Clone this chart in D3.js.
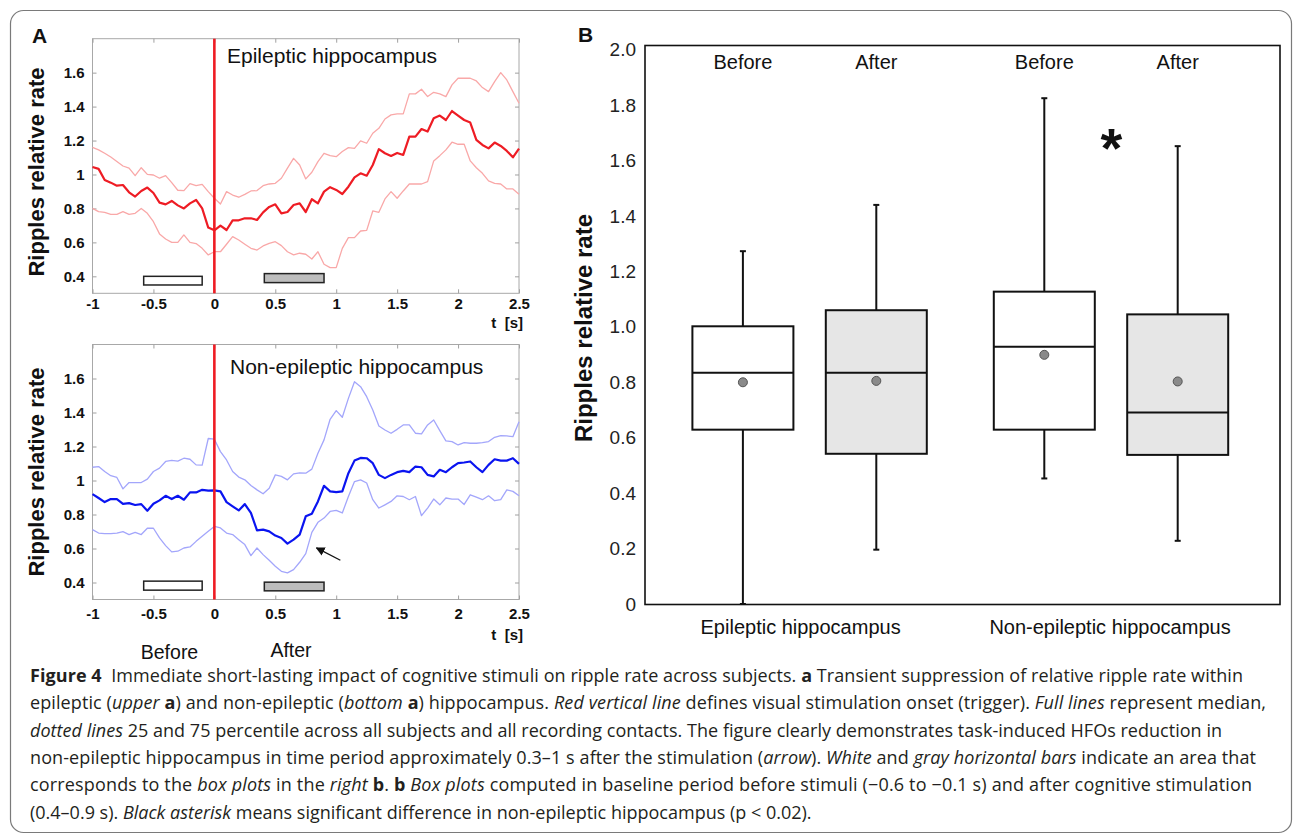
<!DOCTYPE html>
<html>
<head>
<meta charset="utf-8">
<script src="https://cdn.jsdelivr.net/npm/d3@7"></script>
<style>
body { margin: 0; background: #fff; }
svg { display: block; font-family: "Liberation Sans", Arial, sans-serif; }
</style>
</head>
<body>
<svg id="fig" width="1295" height="837"></svg>
<script>
// time grid of the traces (s), one sample every 0.05 s
const times = d3.range(71).map(i => Math.round((-1 + i * 0.05) * 100) / 100);

// epileptic hippocampus: median, 75th and 25th percentile
const epiMedian = [
   1.044, 1.033, 0.968, 0.952, 0.934, 0.938, 0.895, 0.870, 0.903, 0.923,
   0.891, 0.834, 0.824, 0.844, 0.818, 0.800, 0.830, 0.850, 0.800, 0.687,
   0.671, 0.699, 0.673, 0.730, 0.730, 0.742, 0.742, 0.732, 0.777, 0.809,
   0.824, 0.771, 0.779, 0.820, 0.830, 0.779, 0.854, 0.830, 0.899, 0.925,
   0.909, 0.885, 0.928, 0.983, 1.007, 0.993, 1.056, 1.149, 1.125, 1.109,
   1.127, 1.115, 1.223, 1.223, 1.268, 1.253, 1.331, 1.347, 1.321, 1.374,
   1.347, 1.321, 1.306, 1.204, 1.174, 1.154, 1.188, 1.168, 1.139, 1.101,
   1.152
];
const epiP75 = [
   1.160, 1.145, 1.125, 1.103, 1.076, 1.050, 1.037, 0.993, 1.040, 1.001,
   0.997, 0.978, 0.993, 0.952, 0.907, 0.905, 0.946, 0.934, 0.942, 0.899,
   0.860, 0.826, 0.899, 0.879, 0.866, 0.883, 0.903, 0.905, 0.934, 0.944,
   0.948, 0.978, 1.037, 1.095, 1.056, 0.974, 1.013, 1.076, 1.125, 1.111,
   1.105, 1.135, 1.158, 1.154, 1.198, 1.184, 1.243, 1.272, 1.327, 1.351,
   1.357, 1.357, 1.475, 1.475, 1.502, 1.459, 1.484, 1.475, 1.459, 1.528,
   1.567, 1.567, 1.567, 1.551, 1.512, 1.488, 1.547, 1.600, 1.557, 1.488,
   1.420
];
const epiP25 = [
   0.800, 0.781, 0.777, 0.765, 0.765, 0.781, 0.765, 0.771, 0.800, 0.771,
   0.722, 0.650, 0.620, 0.600, 0.600, 0.644, 0.600, 0.593, 0.565, 0.526,
   0.545, 0.545, 0.589, 0.634, 0.614, 0.589, 0.565, 0.555, 0.579, 0.594,
   0.604, 0.581, 0.545, 0.526, 0.536, 0.530, 0.502, 0.545, 0.471, 0.451,
   0.451, 0.565, 0.628, 0.628, 0.667, 0.671, 0.785, 0.777, 0.856, 0.899,
   0.860, 0.903, 0.944, 0.944, 0.944, 0.958, 1.080, 1.111, 1.145, 1.190,
   1.178, 1.178, 1.080, 1.040, 1.007, 0.962, 0.948, 0.944, 0.915, 0.915,
   0.883
];

// non-epileptic hippocampus: median, 75th and 25th percentile
const nonMedian = [
   0.920, 0.897, 0.873, 0.891, 0.891, 0.863, 0.867, 0.856, 0.861, 0.822,
   0.863, 0.883, 0.910, 0.891, 0.910, 0.887, 0.930, 0.930, 0.945, 0.940,
   0.942, 0.936, 0.873, 0.848, 0.824, 0.861, 0.809, 0.707, 0.711, 0.701,
   0.676, 0.662, 0.629, 0.652, 0.682, 0.789, 0.805, 0.877, 0.969, 0.936,
   0.932, 0.936, 1.043, 1.117, 1.133, 1.131, 1.102, 1.033, 1.014, 1.033,
   1.049, 1.057, 1.049, 1.082, 1.078, 1.033, 1.024, 1.063, 1.049, 1.078,
   1.102, 1.106, 1.112, 1.078, 1.049, 1.092, 1.125, 1.117, 1.117, 1.131,
   1.098
];
const nonP75 = [
   1.078, 1.082, 1.053, 1.028, 1.018, 0.951, 0.988, 0.988, 0.988, 1.008,
   1.053, 1.073, 1.112, 1.118, 1.114, 1.131, 1.125, 1.092, 1.090, 1.247,
   1.243, 1.170, 1.121, 1.053, 1.020, 1.004, 0.971, 0.945, 0.922, 0.955,
   1.033, 1.024, 1.004, 1.039, 1.045, 1.043, 1.067, 1.160, 1.239, 1.360,
   1.411, 1.372, 1.483, 1.581, 1.552, 1.493, 1.415, 1.321, 1.297, 1.278,
   1.301, 1.327, 1.327, 1.278, 1.274, 1.327, 1.356, 1.293, 1.233, 1.229,
   1.209, 1.223, 1.219, 1.219, 1.223, 1.229, 1.254, 1.264, 1.262, 1.258,
   1.346
];
const nonP25 = [
   0.711, 0.691, 0.687, 0.687, 0.691, 0.699, 0.682, 0.695, 0.682, 0.719,
   0.719, 0.662, 0.617, 0.580, 0.584, 0.603, 0.609, 0.642, 0.672, 0.701,
   0.730, 0.721, 0.691, 0.682, 0.652, 0.623, 0.558, 0.603, 0.564, 0.531,
   0.496, 0.466, 0.457, 0.476, 0.519, 0.570, 0.695, 0.754, 0.779, 0.818,
   0.824, 0.809, 0.906, 0.994, 1.004, 0.985, 0.887, 0.838, 0.857, 0.877,
   0.910, 0.906, 0.887, 0.906, 0.793, 0.838, 0.891, 0.857, 0.897, 0.891,
   0.891, 0.859, 0.916, 0.902, 0.887, 0.910, 0.881, 0.887, 0.945, 0.936,
   0.910
];

// axes of panel A
const tTicks = [-1, -0.5, 0, 0.5, 1, 1.5, 2, 2.5];
const rateTicksA = [0.4, 0.6, 0.8, 1, 1.2, 1.4, 1.6];

// white (before) and gray (after) bars: time span and rate span per panel
const beforeSpan = [-0.58, -0.1];
const afterSpan = [0.41, 0.9];
const epiBarRates = { before: [0.349, 0.4], after: [0.363, 0.416] };
const nonBarRates = { before: [0.355, 0.408], after: [0.351, 0.402] };

// arrow in the lower panel: [t, rate] tail -> head
const arrowTail = [1.034, 0.531];
const arrowHead = [0.838, 0.604];

// panel B box plots
const boxGroups = ["Epileptic hippocampus", "Non-epileptic hippocampus"];
const boxPhases = ["Before", "After"];
const boxMin = [0.0, 0.196, 0.453, 0.228];
const boxQ1 = [0.629, 0.542, 0.629, 0.538];
const boxMedian = [0.834, 0.834, 0.928, 0.691];
const boxQ3 = [1.002, 1.06, 1.127, 1.045];
const boxMax = [1.273, 1.44, 1.825, 1.652];
const boxMean = [0.80, 0.805, 0.899, 0.803];
const rateTicksB = [0, 0.2, 0.4, 0.6, 0.8, 1.0, 1.2, 1.4, 1.6, 1.8, 2.0];

// caption lines: [text, style]  (b = bold, i = italic)
const captionLines = [
   [["Figure 4", "b"], ["  Immediate short-lasting impact of cognitive stimuli on ripple rate across subjects. ", ""], ["a", "b"], [" Transient suppression of relative ripple rate within", ""]],
   [["epileptic (", ""], ["upper", "i"], [" ", ""], ["a", "b"], [") and non-epileptic (", ""], ["bottom", "i"], [" ", ""], ["a", "b"], [") hippocampus. ", ""], ["Red vertical line", "i"], [" defines visual stimulation onset (trigger). ", ""], ["Full lines", "i"], [" represent median,", ""]],
   [["dotted lines", "i"], [" 25 and 75 percentile across all subjects and all recording contacts. The figure clearly demonstrates task-induced HFOs reduction in", ""]],
   [["non-epileptic hippocampus in time period approximately 0.3\u20131 s after the stimulation (", ""], ["arrow", "i"], ["). ", ""], ["White", "i"], [" and ", ""], ["gray horizontal bars", "i"], [" indicate an area that", ""]],
   [["corresponds to the ", ""], ["box plots", "i"], [" in the ", ""], ["right", "i"], [" ", ""], ["b", "b"], [". ", ""], ["b", "b"], [" ", ""], ["Box plots", "i"], [" computed in baseline period before stimuli (\u22120.6 to \u22120.1 s) and after cognitive stimulation", ""]],
   [["(0.4\u20130.9 s). ", ""], ["Black asterisk", "i"], [" means significant difference in non-epileptic hippocampus (p < 0.02).", ""]]
];
const captionEnds = [1243, 1266, 1222, 1256, 1252, null];

const svg = d3.select("#fig");

svg.append("rect").attr("width", 1295).attr("height", 837).attr("fill", "#fff");

// 外枠
svg.append("rect")
   .attr("x", 10.5).attr("y", 10.5)
   .attr("width", 1281).attr("height", 822)
   .attr("rx", 13)
   .attr("fill", "none")
   .attr("stroke", "#7a7a7a")
   .attr("stroke-width", 1.2);

svg.append("defs").append("marker")
   .attr("id", "arrowhead")
   .attr("viewBox", "0 0 10 10")
   .attr("refX", 9).attr("refY", 5)
   .attr("markerWidth", 9).attr("markerHeight", 9)
   .attr("markerUnits", "userSpaceOnUse")
   .attr("orient", "auto")
   .append("path")
   .attr("d", "M0,0L10,5L0,10z")
   .attr("fill", "#111");

// panel A
const x = d3.scaleLinear().domain([-1, 2.5]).range([92.5, 519]);

function drawTracePanel(opt) {
   const y = d3.scaleLinear().domain([0.3, 1.8]).range([opt.bottom, opt.top]);
   const g = svg.append("g");

   // frame
   g.append("rect")
      .attr("x", x.range()[0]).attr("y", opt.top)
      .attr("width", x.range()[1] - x.range()[0])
      .attr("height", opt.bottom - opt.top)
      .attr("fill", "none")
      .attr("stroke", "#a8a8a8")
      .attr("stroke-width", 1);

   const styleAxis = (sel) => {
      sel.select(".domain").remove();
      sel.selectAll(".tick line").attr("stroke", "#a0a0a0");
      sel.selectAll(".tick text")
         .attr("fill", "#111")
         .attr("font-size", 15)
         .attr("font-weight", "bold")
         .attr("font-family", "Liberation Sans, Arial, sans-serif");
   };

   g.append("g")
      .attr("transform", `translate(${x.range()[0]},0)`)
      .call(d3.axisLeft(y).tickValues(rateTicksA).tickSize(-4).tickPadding(8).tickFormat(d => String(d)))
      .call(styleAxis);
   g.append("g")
      .attr("transform", `translate(${x.range()[1]},0)`)
      .call(d3.axisRight(y).tickValues(rateTicksA).tickSize(-4).tickFormat(""))
      .call(styleAxis);
   g.append("g")
      .attr("transform", `translate(0,${opt.bottom})`)
      .call(d3.axisBottom(x).tickValues(tTicks).tickSize(-4).tickPadding(opt.xPad).tickFormat(d => String(d)))
      .call(styleAxis);
   g.append("g")
      .attr("transform", `translate(0,${opt.top})`)
      .call(d3.axisTop(x).tickValues(tTicks).tickSize(-4).tickFormat(""))
      .call(styleAxis);

   // percentile traces, then median
   const line = d3.line().x((d, i) => x(times[i])).y(d => y(d));
   [opt.p75, opt.p25].forEach(s => {
      g.append("path")
         .attr("d", line(s))
         .attr("fill", "none")
         .attr("stroke", opt.light)
         .attr("stroke-width", 1.3)
         .attr("stroke-linejoin", "round");
   });
   g.append("path")
      .attr("d", line(opt.median))
      .attr("fill", "none")
      .attr("stroke", opt.dark)
      .attr("stroke-width", 2.2)
      .attr("stroke-linejoin", "round");

   // before / after bars
   g.append("rect")
      .attr("x", x(beforeSpan[0])).attr("y", y(opt.bars.before[1]))
      .attr("width", x(beforeSpan[1]) - x(beforeSpan[0]))
      .attr("height", y(opt.bars.before[0]) - y(opt.bars.before[1]))
      .attr("fill", "#fff").attr("stroke", "#222").attr("stroke-width", 1.5);
   g.append("rect")
      .attr("x", x(afterSpan[0])).attr("y", y(opt.bars.after[1]))
      .attr("width", x(afterSpan[1]) - x(afterSpan[0]))
      .attr("height", y(opt.bars.after[0]) - y(opt.bars.after[1]))
      .attr("fill", "#bdbdbd").attr("stroke", "#222").attr("stroke-width", 1.5);

   // stimulation onset
   g.append("line")
      .attr("x1", x(0)).attr("x2", x(0))
      .attr("y1", opt.top).attr("y2", opt.bottom)
      .attr("stroke", "#ee1c24")
      .attr("stroke-width", 2.6);

   g.append("text")
      .attr("x", opt.titleX).attr("y", opt.titleY)
      .attr("font-size", 21)
      .attr("fill", "#111")
      .text(opt.title);

   g.append("text")
      .attr("transform", `translate(36,${opt.labelY}) rotate(-90)`)
      .attr("text-anchor", "middle")
      .attr("dominant-baseline", "central")
      .attr("font-size", 22)
      .attr("font-weight", "bold")
      .attr("fill", "#111")
      .text("Ripples relative rate");

   g.append("text")
      .attr("x", 523).attr("y", opt.unitY)
      .attr("text-anchor", "end")
      .attr("font-size", 15)
      .attr("font-weight", "bold")
      .attr("fill", "#111")
      .attr("xml:space", "preserve")
      .text("t  [s]");

   return y;
}

drawTracePanel({
   top: 38.7, bottom: 293.3, xPad: 5,
   median: epiMedian, p75: epiP75, p25: epiP25,
   dark: "#ee1c24", light: "#f9a8a8",
   bars: epiBarRates,
   title: "Epileptic hippocampus", titleX: 227, titleY: 63,
   labelY: 172, unitY: 328
});
const yNon = drawTracePanel({
   top: 344.5, bottom: 599.5, xPad: 9,
   median: nonMedian, p75: nonP75, p25: nonP25,
   dark: "#0a14f0", light: "#a3a6fb",
   bars: nonBarRates,
   title: "Non-epileptic hippocampus", titleX: 230, titleY: 374,
   labelY: 472, unitY: 640
});

svg.append("line")
   .attr("x1", x(arrowTail[0])).attr("y1", yNon(arrowTail[1]))
   .attr("x2", x(arrowHead[0])).attr("y2", yNon(arrowHead[1]))
   .attr("stroke", "#111")
   .attr("stroke-width", 1.3)
   .attr("marker-end", "url(#arrowhead)");

svg.append("text").attr("x", 169.5).attr("y", 659)
   .attr("text-anchor", "middle").attr("font-size", 19.5).attr("fill", "#111").text("Before");
svg.append("text").attr("x", 291).attr("y", 657)
   .attr("text-anchor", "middle").attr("font-size", 19.5).attr("fill", "#111").text("After");

svg.append("text").attr("x", 32).attr("y", 43)
   .attr("font-size", 21).attr("font-weight", "bold").attr("fill", "#111").text("A");

// panel B
const yB = d3.scaleLinear().domain([0, 2]).range([604, 49.7]);
const gx = d3.scalePoint().domain(boxGroups).range([809.6, 1111]);
const px = d3.scalePoint().domain(boxPhases).range([-66.7, 66.7]);
const boxHalf = 50.5;
const frameB = { left: 645, right: 1280, top: 45.5, bottom: 604.5 };

const gB = svg.append("g");
gB.append("rect")
   .attr("x", frameB.left).attr("y", frameB.top)
   .attr("width", frameB.right - frameB.left)
   .attr("height", frameB.bottom - frameB.top)
   .attr("fill", "none").attr("stroke", "#111").attr("stroke-width", 1.6);

gB.append("g")
   .attr("transform", `translate(${frameB.left},0)`)
   .call(d3.axisLeft(yB).tickValues(rateTicksB).tickSize(0).tickPadding(9)
      .tickFormat(d => d === 0 ? "0" : d.toFixed(1)))
   .call(sel => {
      sel.select(".domain").remove();
      sel.selectAll(".tick text")
         .attr("font-size", 19)
         .attr("fill", "#222")
         .attr("font-family", "Liberation Sans, Arial, sans-serif");
   });

const boxes = [];
boxGroups.forEach((grp, gi) => {
   boxPhases.forEach((ph, pi) => {
      const k = gi * 2 + pi;
      boxes.push({
         cx: gx(grp) + px(ph), phase: ph,
         min: boxMin[k], q1: boxQ1[k], med: boxMedian[k],
         q3: boxQ3[k], max: boxMax[k], mean: boxMean[k]
      });
   });
});

const bx = gB.selectAll("g.box").data(boxes).enter().append("g").attr("class", "box");
bx.append("line")
   .attr("x1", d => d.cx).attr("x2", d => d.cx)
   .attr("y1", d => yB(d.max)).attr("y2", d => yB(d.min))
   .attr("stroke", "#111").attr("stroke-width", 2);
bx.append("line")
   .attr("x1", d => d.cx - 3).attr("x2", d => d.cx + 3)
   .attr("y1", d => yB(d.max)).attr("y2", d => yB(d.max))
   .attr("stroke", "#111").attr("stroke-width", 2);
bx.append("line")
   .attr("x1", d => d.cx - 3).attr("x2", d => d.cx + 3)
   .attr("y1", d => yB(d.min)).attr("y2", d => yB(d.min))
   .attr("stroke", "#111").attr("stroke-width", 2);
bx.append("rect")
   .attr("x", d => d.cx - boxHalf).attr("width", boxHalf * 2)
   .attr("y", d => yB(d.q3)).attr("height", d => yB(d.q1) - yB(d.q3))
   .attr("fill", d => d.phase === "Before" ? "#fff" : "#e6e6e6")
   .attr("stroke", "#111").attr("stroke-width", 2);
bx.append("line")
   .attr("x1", d => d.cx - boxHalf).attr("x2", d => d.cx + boxHalf)
   .attr("y1", d => yB(d.med)).attr("y2", d => yB(d.med))
   .attr("stroke", "#111").attr("stroke-width", 2);
bx.append("circle")
   .attr("cx", d => d.cx).attr("cy", d => yB(d.mean))
   .attr("r", 4.5)
   .attr("fill", "#8a8a8a").attr("stroke", "#555").attr("stroke-width", 1);
bx.append("text")
   .attr("x", d => d.cx).attr("y", 68.8)
   .attr("text-anchor", "middle")
   .attr("font-size", 20).attr("fill", "#111")
   .text(d => d.phase);

const catShift = [-9, -1];
gB.selectAll("text.cat").data(boxGroups).enter().append("text")
   .attr("class", "cat")
   .attr("x", (d, i) => gx(d) + catShift[i]).attr("y", 634)
   .attr("text-anchor", "middle")
   .attr("font-size", 20).attr("fill", "#111")
   .text(d => d);

gB.append("text")
   .attr("transform", `translate(583,328) rotate(-90)`)
   .attr("text-anchor", "middle")
   .attr("dominant-baseline", "central")
   .attr("font-size", 24).attr("font-weight", "bold").attr("fill", "#111")
   .text("Ripples relative rate");

gB.append("text")
   .attr("x", 1111.5).attr("y", 167)
   .attr("text-anchor", "middle")
   .attr("font-size", 56).attr("font-weight", "bold").attr("fill", "#111")
   .text("*");

svg.append("text").attr("x", 578).attr("y", 42)
   .attr("font-size", 21).attr("font-weight", "bold").attr("fill", "#111").text("B");

// キャプション
const cap = svg.append("g")
   .attr("font-family", "'Open Sans', 'Noto Sans', sans-serif")
   .attr("font-size", 18)
   .attr("fill", "#231f20");
captionLines.forEach((segs, i) => {
   const t = cap.append("text")
      .attr("x", 30)
      .attr("y", 682 + i * 27.3)
      .attr("xml:space", "preserve");
   segs.forEach(([s, st]) => {
      t.append("tspan")
         .attr("font-weight", st === "b" ? "bold" : null)
         .attr("font-style", st === "i" ? "italic" : null)
         .text(s);
   });
   if (captionEnds[i]) {
      t.attr("textLength", captionEnds[i] - 30).attr("lengthAdjust", "spacing");
   }
});
</script>
</body>
</html>
